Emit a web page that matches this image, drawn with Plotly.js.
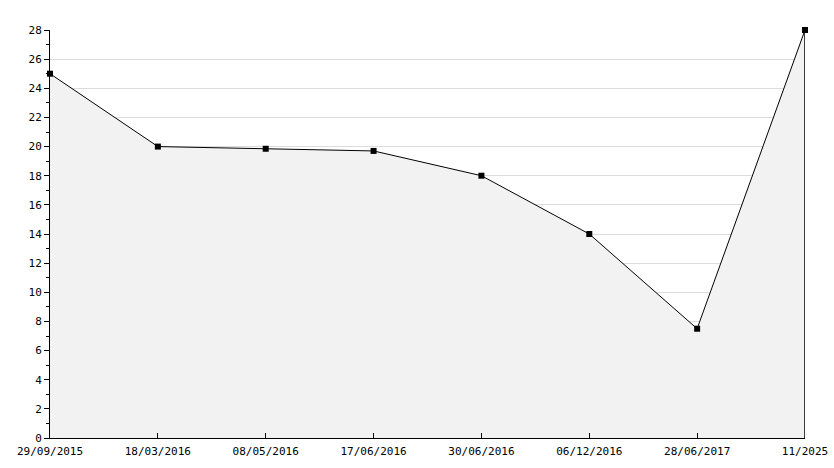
<!DOCTYPE html>
<html><head><meta charset="utf-8">
<script src="https://cdn.plot.ly/plotly-3.0.1.min.js"></script>
<style>html,body{margin:0;padding:0;background:#fff}#chart{width:834px;height:468px}</style>
</head><body><div id="chart"></div>
<script>
const categories = ["29/09/2015","18/03/2016","08/05/2016","17/06/2016","30/06/2016","06/12/2016","28/06/2017","11/2025"];
const values = [25, 20, 19.85, 19.7, 18, 14, 7.5, 28];
const yTicks = [0,2,4,6,8,10,12,14,16,18,20,22,24,26,28];

const lastCat = categories[categories.length-1];
const lastVal = values[values.length-1];

const traces = [
  {x: categories, y: values, type:'scatter', mode:'lines+markers', fill:'tozeroy',
   fillcolor:'#f2f2f2', line:{color:'#000', width:1}, cliponaxis:false,
   marker:{color:'#000', size:6, symbol:'square'}, hoverinfo:'x+y'},
  {x:[lastCat,lastCat], y:[0,lastVal], type:'scatter', mode:'lines',
   line:{color:'#000', width:1.5}, hoverinfo:'skip'}
];

const font = {family:'DejaVu Sans Mono, monospace', size:11, color:'#000'};
const layout = {
  width:834, height:468, showlegend:false,
  margin:{l:50, r:29, t:30, b:30},
  paper_bgcolor:'#fff', plot_bgcolor:'#fff', font:font,
  xaxis:{type:'category', range:[0, categories.length-1], showgrid:false,
    showline:true, linecolor:'#000', linewidth:1, ticks:'inside', ticklen:5,
    tickcolor:'#000', tickfont:font, zeroline:false, fixedrange:true, ticklabelstandoff:3},
  yaxis:{range:[0,28], tickvals:yTicks, ticktext:yTicks.map(String), showgrid:true,
    gridcolor:'#dcdcdc', gridwidth:1, showline:true, linecolor:'#000', linewidth:1,
    ticks:'outside', ticklen:5, tickcolor:'#000', tickfont:font, zeroline:false,
    minor:{dtick:1, ticks:'outside', ticklen:3, tickcolor:'#000', showgrid:false},
    fixedrange:true}
};
Plotly.newPlot('chart', traces, layout, {displayModeBar:false, staticPlot:true});
</script></body></html>
